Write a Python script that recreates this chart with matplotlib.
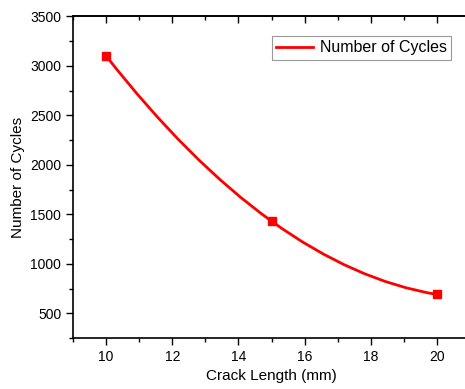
import matplotlib.pyplot as plt
from matplotlib.path import Path
from matplotlib.patches import PathPatch
from matplotlib.lines import Line2D
from matplotlib.ticker import MultipleLocator

plt.rcParams["font.family"] = ["Liberation Sans", "DejaVu Sans"]

crack_length = [10, 15, 20]
cycles = [3100, 1430, 690]

fig = plt.figure(figsize=(4.65, 3.89), dpi=100)
ax = fig.add_axes([0.157, 0.131, 0.854, 0.827])

# smooth connection through the three points (quadratic Bezier passing through the middle point)
x0, x1, x2 = crack_length
y0, y1, y2 = cycles
ctrl = (2 * x1 - (x0 + x2) / 2, 2 * y1 - (y0 + y2) / 2)
curve = Path([(x0, y0), ctrl, (x2, y2)], [Path.MOVETO, Path.CURVE3, Path.CURVE3])
ax.add_patch(PathPatch(curve, facecolor="none", edgecolor="red", lw=2))
ax.plot(crack_length, cycles, ls="none", marker="s", ms=5.5, color="red")

ax.set_xlim(9, 21)
ax.set_ylim(250, 3500)
ax.xaxis.set_major_locator(MultipleLocator(2))
ax.xaxis.set_minor_locator(MultipleLocator(1))
ax.yaxis.set_minor_locator(MultipleLocator(250))
ax.set_yticks(range(500, 3501, 500))

ax.spines["right"].set_visible(False)
for s in ax.spines.values():
    s.set_linewidth(1.2)
ax.tick_params(axis="both", which="both", direction="out", width=1, labelsize=10)
ax.tick_params(which="major", length=5)
ax.tick_params(which="minor", length=3)

# top axis: ticks pointing inward, no labels
top = ax.secondary_xaxis("top")
top.xaxis.set_major_locator(MultipleLocator(2))
top.xaxis.set_minor_locator(MultipleLocator(1))
top.tick_params(which="both", direction="in", width=1, labeltop=False)
top.tick_params(which="major", length=5)
top.tick_params(which="minor", length=3)
top.spines["top"].set_linewidth(1.2)

ax.set_xlabel("Crack Length (mm)", fontsize=11)
ax.set_ylabel("Number of Cycles", fontsize=11)

handle = Line2D([], [], color="red", lw=2)
leg = ax.legend([handle], ["Number of Cycles"], loc="upper left",
                bbox_to_anchor=(0.48, 0.965), fontsize=11.5, fancybox=False,
                edgecolor="gray", handlelength=2.3, handletextpad=0.4, borderpad=0.3)
leg.get_frame().set_linewidth(0.8)

plt.savefig("out.png", dpi=100)
